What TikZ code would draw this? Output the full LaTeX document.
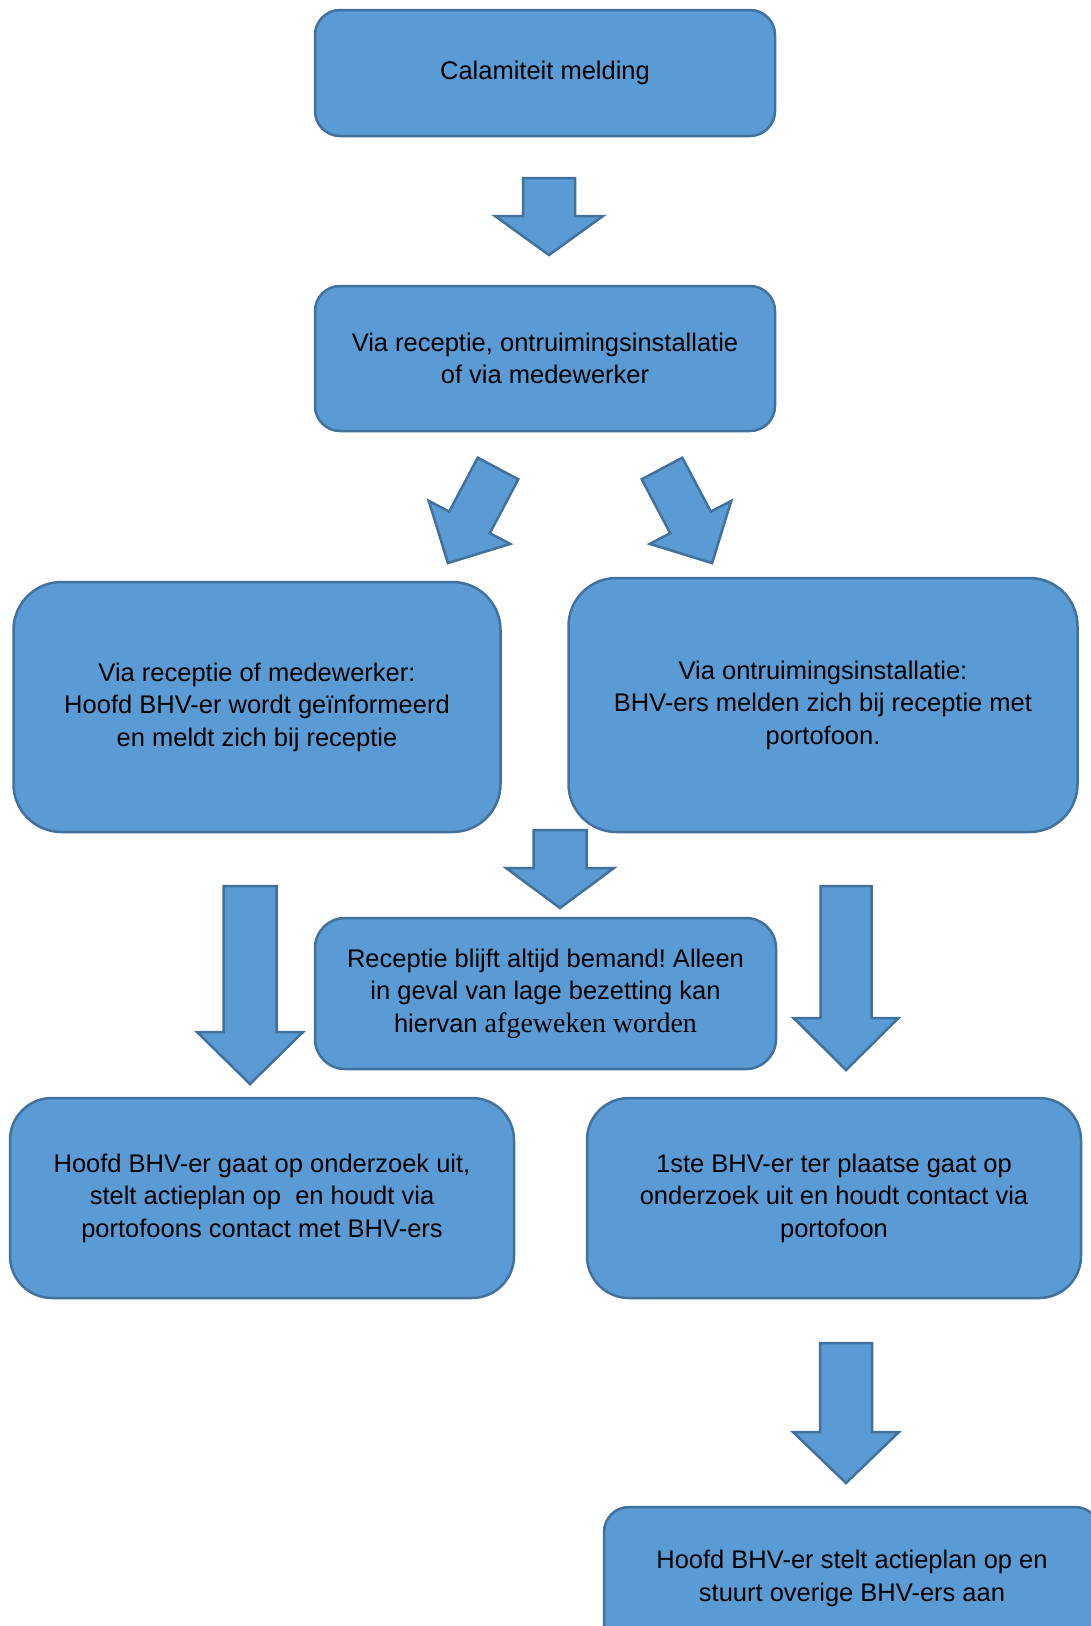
\documentclass[tikz,border=0pt]{standalone}
\usepackage{fontspec}
\setmainfont{Liberation Sans}
\newfontfamily\seriffont{Liberation Serif}
\usetikzlibrary{calc,positioning}
\definecolor{boxblue}{RGB}{91,155,213}
\definecolor{boxborder}{RGB}{65,113,156}
\frenchspacing

\tikzset{
  flowbox/.style={draw=boxborder, fill=boxblue, line width=2.5pt, rounded corners=#1,
    align=center, inner sep=0pt, font=\fontsize{25.5}{32.5}\selectfont},
  flowbox/.default=25pt,
  blockarrow/.style={draw=boxborder, fill=boxblue, line width=2.5pt, line join=miter}
}

\begin{document}
\begin{tikzpicture}[x=1pt, y=-1pt]
  % Page area
  \clip (0,0) rectangle (1091,1626);

  % Boxes
  \node[flowbox, minimum width=460pt, minimum height=126pt] (melding) at (545,73) {Calamiteit melding};
  \node[flowbox, minimum width=460pt, minimum height=145pt] (via) at (545,358.5) {Via receptie, ontruimingsinstallatie\\of via medewerker};
  \node[flowbox=48pt, minimum width=487pt, minimum height=250pt] (receptie) at (257,707) {Via receptie of medewerker:\\Hoofd BHV-er wordt geïnformeerd\\en meldt zich bij receptie};
  \node[flowbox=48pt, minimum width=509pt, minimum height=254pt] (ontruiming) at (823,705) {Via ontruimingsinstallatie:\\BHV-ers melden zich bij receptie met\\portofoon.};
  \node[flowbox=30pt, minimum width=461pt, minimum height=151pt] (bemand) at (545.5,993.5) {Receptie blijft altijd bemand! Alleen\\in geval van lage bezetting kan\\hiervan {\seriffont\fontsize{28}{32.5}\selectfont afgeweken worden}};
  \node[flowbox=42pt, minimum width=504pt, minimum height=200pt] (onderzoek) at (262,1198) {Hoofd BHV-er gaat op onderzoek uit,\\stelt actieplan op~ en houdt via\\portofoons contact met BHV-ers};
  \node[flowbox=42pt, minimum width=494pt, minimum height=200pt] (eerste) at (834,1198) {1ste BHV-er ter plaatse gaat op\\onderzoek uit en houdt contact via\\portofoon};
  \node[flowbox, minimum width=496pt, minimum height=143pt] (actieplan) at (852,1578.5) {Hoofd BHV-er stelt actieplan op en\\stuurt overige BHV-ers aan};

  % Straight block arrows
  \foreach \x/\ytop/\ywing/\ytip/\sw/\hw in {549/178/216/255/26/54, 560/830/868/908/26.5/54,
      250/886/1032/1084/26.5/53, 846/886/1018/1070/25.5/52.5, 846/1343/1432/1483/26/53} {
    \filldraw[blockarrow] (\x-\sw,\ytop) -- (\x+\sw,\ytop) -- (\x+\sw,\ywing) -- (\x+\hw,\ywing)
      -- (\x,\ytip) -- (\x-\hw,\ywing) -- (\x-\sw,\ywing) -- cycle;
  }

  % Slanted block arrows
  \foreach \s in {1,-1} {
    \filldraw[blockarrow] ({580-\s*102.3},457.7) -- ({580-\s*61.7},479.3) -- ({580-\s*90.2},533.2)
      -- ({580-\s*69.8},543.9) -- ({580-\s*132.1},563.1) -- ({580-\s*151.2},500.9)
      -- ({580-\s*130.8},511.6) -- cycle;
  }
\end{tikzpicture}
\end{document}
